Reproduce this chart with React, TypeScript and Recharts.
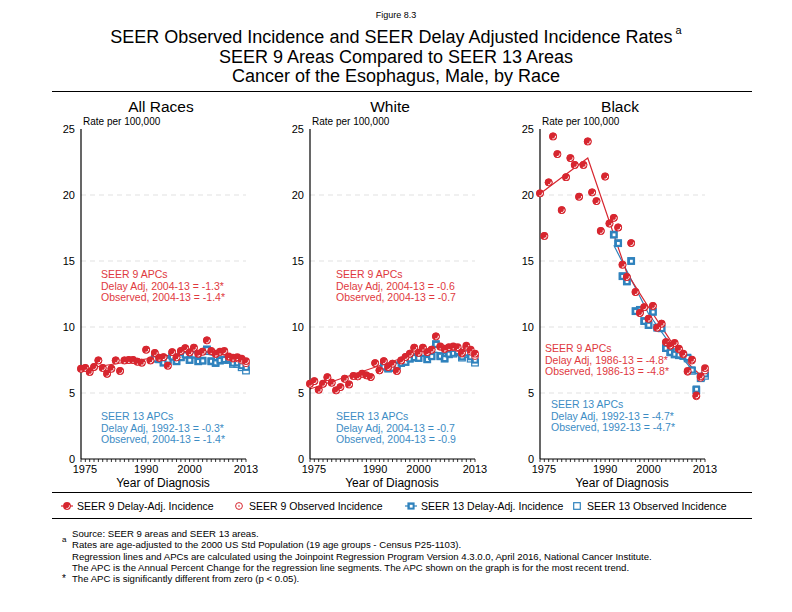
import React from 'react';
import { ComposedChart, Line, XAxis, YAxis, ReferenceLine } from 'recharts';

const RED = '#d7262f';
const BLUE = '#2f82bd';
const RED_TEXT = '#e0393e';
const BLUE_TEXT = '#3c8cc4';
const FONT = '"Liberation Sans", Arial, Helvetica, sans-serif';

const years = [
  1975, 1976, 1977, 1978, 1979, 1980, 1981, 1982, 1983, 1984,
  1985, 1986, 1987, 1988, 1989, 1990, 1991, 1992, 1993, 1994,
  1995, 1996, 1997, 1998, 1999, 2000, 2001, 2002, 2003, 2004,
  2005, 2006, 2007, 2008, 2009, 2010, 2011, 2012, 2013,
];
const labelYears = [1975, 1990, 2000, 2013];
const yTicks = [0, 5, 10, 15, 20, 25];
const gridValues = [5, 10, 15, 20];

// SEER 13 series start in 1992 (17 empty years before)
const pre92 = [null, null, null, null, null, null, null, null, null, null, null, null, null, null, null, null, null];

// All Races
const allS9Delay = [
  6.84, 6.9, 6.6, 6.97, 7.47, 6.9, 6.46, 6.84, 7.47, 6.67,
  7.47, 7.5, 7.5, 7.37, 7.3, 8.28, 7.47, 8.03, 7.67, 7.72,
  7.07, 8.1, 7.7, 8.18, 8.4, 8.08, 8.43, 7.98, 8.13, 8.99,
  8.18, 7.98, 8.13, 8.18, 7.78, 7.67, 7.72, 7.6, 7.42,
];
const allS9Obs = [
  6.84, 6.9, 6.6, 6.97, 7.47, 6.9, 6.46, 6.84, 7.47, 6.67,
  7.47, 7.5, 7.5, 7.37, 7.3, 8.28, 7.47, 8.03, 7.67, 7.72,
  7.07, 8.1, 7.7, 8.18, 8.4, 8.08, 8.43, 7.98, 8.13, 8.99,
  8.16, 7.95, 8.1, 8.12, 7.72, 7.6, 7.62, 7.48, 7.25,
];
const allS13Delay = [
  ...pre92,
  7.6, 7.55, 7.3, 7.5, 7.75, 7.4, 7.7, 7.9, 7.5, 7.9, 7.4,
  7.45, 8.3, 7.42, 7.3, 7.48, 7.55, 7.55, 7.27, 7.3, 7.08, 6.95,
];
const allS13Obs = [
  ...pre92,
  7.6, 7.55, 7.3, 7.5, 7.75, 7.4, 7.7, 7.9, 7.5, 7.9, 7.4,
  7.45, 8.3, 7.4, 7.27, 7.45, 7.5, 7.5, 7.2, 7.2, 6.95, 6.7,
];
const allFit9Years = [1975, 2004, 2013];
const allFit9 = [6.8, 8.3, 7.4];
const allFit13Years = [1992, 2004, 2013];
const allFit13 = [7.6, 7.95, 7.3];

// White
const whiteS9Delay = [
  5.7, 5.9, 5.25, 5.7, 6.2, 5.78, 5.2, 5.45, 6.08, 5.65,
  6.29, 6.26, 6.46, 6.34, 6.21, 7.27, 6.72, 7.42, 6.97, 7.22,
  6.67, 7.47, 7.73, 7.98, 8.43, 8.05, 8.43, 8.1, 8.28, 9.29,
  8.53, 8.36, 8.48, 8.53, 8.48, 8.05, 8.58, 8.28, 7.98,
];
const whiteS9Obs = [
  5.7, 5.9, 5.25, 5.7, 6.2, 5.78, 5.2, 5.45, 6.08, 5.65,
  6.29, 6.26, 6.46, 6.34, 6.21, 7.27, 6.72, 7.42, 6.97, 7.22,
  6.67, 7.47, 7.73, 7.98, 8.43, 8.05, 8.43, 8.1, 8.28, 9.29,
  8.5, 8.33, 8.44, 8.47, 8.4, 7.98, 8.48, 8.14, 7.8,
];
const whiteS13Delay = [
  ...pre92,
  7.0, 6.85, 6.9, 7.1, 7.27, 7.35, 7.6, 7.7, 7.65, 8.03, 7.55,
  7.78, 8.7, 7.8, 7.62, 7.96, 8.02, 8.15, 7.75, 8.05, 7.75, 7.5,
];
const whiteS13Obs = [
  ...pre92,
  7.0, 6.85, 6.9, 7.1, 7.27, 7.35, 7.6, 7.7, 7.65, 8.03, 7.55,
  7.78, 8.7, 7.78, 7.6, 7.93, 7.98, 8.1, 7.68, 7.98, 7.6, 7.3,
];
const whiteFit9Years = [1975, 2004, 2013];
const whiteFit9 = [5.3, 8.5, 8.05];
const whiteFit13Years = [1992, 2004, 2013];
const whiteFit13 = [7.0, 8.1, 7.6];

// Black
const blackS9Delay = [
  20.13, 16.9, 20.96, 24.44, 23.1, 18.86, 21.35, 22.8, 22.28, 19.87,
  22.28, 24.06, 20.2, 19.54, 17.28, 21.4, 17.84, 18.27, 17.54, 14.72,
  13.79, 16.36, 12.65, 11.06, 11.5, 10.63, 11.6, 9.95, 10.25, 8.86,
  8.6, 8.79, 8.36, 7.98, 6.67, 7.53, 4.82, 6.26, 6.89,
];
const blackS9Obs = [
  20.13, 16.9, 20.96, 24.44, 23.1, 18.86, 21.35, 22.8, 22.28, 19.87,
  22.28, 24.06, 20.2, 19.54, 17.28, 21.4, 17.84, 18.27, 17.54, 14.72,
  13.79, 16.36, 12.65, 11.06, 11.5, 10.63, 11.6, 9.95, 10.25, 8.86,
  8.58, 8.76, 8.3, 7.92, 6.6, 7.45, 4.75, 6.15, 6.7,
];
const blackS13Delay = [
  ...pre92,
  17.0, 16.35, 13.85, 13.45, 15.0, 11.2, 11.3, 10.45, 10.15, 11.15, 9.95,
  9.9, 8.4, 8.1, 7.95, 7.9, 7.85, 7.7, 6.75, 5.3, 6.25, 6.45,
];
const blackS13Obs = [
  ...pre92,
  17.0, 16.35, 13.85, 13.45, 15.0, 11.2, 11.3, 10.45, 10.15, 11.15, 9.95,
  9.9, 8.4, 8.08, 7.92, 7.86, 7.8, 7.62, 6.68, 5.22, 6.12, 6.3,
];
const blackFit9Years = [1975, 1986, 1995, 2000, 2005, 2010, 2013];
const blackFit9 = [20.1, 22.8, 14.1, 11.5, 9.0, 6.95, 6.05];
const blackFit13Years = [1992, 2000, 2005, 2010, 2013];
const blackFit13 = [16.2, 11.0, 8.7, 6.8, 5.9];

type Num = number | null;

const FilledCircle = ({ cx, cy }: { cx: number; cy: number }) => (
  <g>
    <circle cx={cx} cy={cy} r={3.9} fill={RED} />
    <path
      d={`M ${cx + 2.4} ${cy - 0.6} A 2.5 2.5 0 0 1 ${cx - 0.6} ${cy + 2.4}`}
      stroke="#fff"
      strokeWidth={1}
      fill="none"
    />
  </g>
);

const OpenCircle = ({ cx, cy }: { cx: number; cy: number }) => (
  <g>
    <circle cx={cx} cy={cy} r={3.4} fill="#fff" stroke={RED} strokeWidth={1} />
    <circle cx={cx} cy={cy} r={0.8} fill={RED} />
  </g>
);

const FilledSquare = ({ cx, cy }: { cx: number; cy: number }) => (
  <g>
    <rect x={cx - 3.6} y={cy - 3.6} width={7.2} height={7.2} fill={BLUE} />
    <rect x={cx - 1.2} y={cy - 1.2} width={2.8} height={2.8} fill="#fff" />
  </g>
);

const OpenSquare = ({ cx, cy }: { cx: number; cy: number }) => (
  <rect x={cx - 3.3} y={cy - 3.3} width={6.6} height={6.6} fill="#fff" stroke={BLUE} strokeWidth={1.2} />
);

const makeDot = (Shape: React.FC<{ cx: number; cy: number }>, tag: string) => (props: any) => {
  const { cx, cy, value, index } = props;
  if (value === null || value === undefined || cy === null || cy === undefined || isNaN(cy)) {
    return <g key={`${tag}-${index}`} />;
  }
  return (
    <g key={`${tag}-${index}`}>
      <Shape cx={cx} cy={cy} />
    </g>
  );
};

// year labels: the first one sits a little to the right of the axis, as in the original
const YearTick = (props: any) => {
  const { x, y, payload } = props;
  const v = payload.value as number;
  if (!labelYears.includes(v)) return <g />;
  const dx = v === 1975 ? 4 : 0;
  return (
    <text x={x + dx} y={y + 9} textAnchor="middle" fontSize={11} fill="#000">
      {v}
    </text>
  );
};

interface PanelProps {
  plotLeft: number;
  s9Delay: Num[];
  s9Obs: Num[];
  s13Delay: Num[];
  s13Obs: Num[];
  fit9Years: number[];
  fit9: number[];
  fit13Years: number[];
  fit13: number[];
}

const Y_AXIS_W = 41;
const PLOT_W = 165;
const RIGHT_PAD = 25;
const CHART_TOP = 120;
const CHART_H = 375;

const Panel: React.FC<PanelProps> = ({ plotLeft, s9Delay, s9Obs, s13Delay, s13Obs, fit9Years, fit9, fit13Years, fit13 }) => {
  const data = years.map((year, i) => {
    const f9i = fit9Years.indexOf(year);
    const f13i = fit13Years.indexOf(year);
    return {
      year,
      s9d: s9Delay[i],
      s9o: s9Obs[i],
      s13d: s13Delay[i],
      s13o: s13Obs[i],
      f9: f9i >= 0 ? fit9[f9i] : null,
      f13: f13i >= 0 ? fit13[f13i] : null,
    };
  });
  return (
    <div style={{ position: 'absolute', left: plotLeft - Y_AXIS_W, top: CHART_TOP }}>
      <ComposedChart
        width={Y_AXIS_W + PLOT_W + RIGHT_PAD}
        height={CHART_H}
        data={data}
        margin={{ top: 9, right: RIGHT_PAD, bottom: 0, left: 0 }}
      >
        {gridValues.map((v) => (
          <ReferenceLine key={v} y={v} stroke="#d9d9d9" strokeDasharray="5 4" strokeWidth={0.8} />
        ))}
        <XAxis
          dataKey="year"
          type="number"
          domain={[1975, 2013]}
          ticks={years}
          interval={0}
          tickSize={3}
          tickMargin={2}
          height={36}
          stroke="#000"
          tick={<YearTick />}
          tickLine={{ stroke: '#000', strokeWidth: 0.8 }}
          axisLine={{ stroke: '#000', strokeWidth: 1.2 }}
        />
        <YAxis
          type="number"
          domain={[0, 25]}
          ticks={yTicks}
          width={Y_AXIS_W}
          tickLine={false}
          tickSize={0}
          tickMargin={6}
          tick={{ fill: '#000', fontSize: 11 }}
          axisLine={{ stroke: '#000', strokeWidth: 1.2 }}
        />
        <Line dataKey="s13o" stroke="none" dot={makeDot(OpenSquare, 's13o')} activeDot={false} isAnimationActive={false} />
        <Line dataKey="s13d" stroke="none" dot={makeDot(FilledSquare, 's13d')} activeDot={false} isAnimationActive={false} />
        <Line dataKey="s9o" stroke="none" dot={makeDot(OpenCircle, 's9o')} activeDot={false} isAnimationActive={false} />
        <Line dataKey="s9d" stroke="none" dot={makeDot(FilledCircle, 's9d')} activeDot={false} isAnimationActive={false} />
        <Line dataKey="f13" stroke={BLUE} strokeWidth={1.2} dot={false} activeDot={false} connectNulls isAnimationActive={false} />
        <Line dataKey="f9" stroke={RED} strokeWidth={1.2} dot={false} activeDot={false} connectNulls isAnimationActive={false} />
      </ComposedChart>
    </div>
  );
};

const abs = (left: number, top: number, extra: React.CSSProperties = {}): React.CSSProperties => ({
  position: 'absolute',
  left,
  top,
  whiteSpace: 'nowrap',
  ...extra,
});

const centered = (cx: number, top: number, fontSize: number, extra: React.CSSProperties = {}): React.CSSProperties => ({
  position: 'absolute',
  left: cx - 300,
  width: 600,
  top,
  textAlign: 'center',
  fontSize,
  lineHeight: 1,
  whiteSpace: 'nowrap',
  ...extra,
});

const ApcBlock = ({ left, top, color, lines }: { left: number; top: number; color: string; lines: string[] }) => (
  <div style={abs(left, top, { color, fontSize: 10.5, lineHeight: '11.5px' })}>
    {lines.map((l) => (
      <div key={l}>{l}</div>
    ))}
  </div>
);

const LegendItem = ({ x, label, kind }: { x: number; label: string; kind: string }) => (
  <div style={abs(x - 8, 500, { fontSize: 10.5, lineHeight: '12px', display: 'flex', alignItems: 'center' })}>
    <svg width={16} height={12} style={{ marginRight: 2 }}>
      {kind === 's9d' && <line x1={2} y1={6} x2={14} y2={6} stroke={RED} strokeWidth={1.2} />}
      {kind === 's13d' && <line x1={2} y1={6} x2={14} y2={6} stroke={BLUE} strokeWidth={1.2} />}
      {kind === 's9d' && <FilledCircle cx={8} cy={6} />}
      {kind === 's9o' && <OpenCircle cx={8} cy={6} />}
      {kind === 's13d' && <FilledSquare cx={8} cy={6} />}
      {kind === 's13o' && <OpenSquare cx={8} cy={6} />}
    </svg>
    <span>{label}</span>
  </div>
);

const panelTitles = ['All Races', 'White', 'Black'];
const plotLefts = [81, 310, 540];

export default function App() {
  return (
    <div
      style={{
        position: 'absolute',
        left: 0,
        top: 0,
        width: 792,
        height: 612,
        background: '#fff',
        fontFamily: FONT,
        color: '#000',
        overflow: 'hidden',
      }}
    >
      <div style={centered(396, 11, 9)}>Figure 8.3</div>
      <div style={centered(396, 28, 18)}>
        SEER Observed Incidence and SEER Delay Adjusted Incidence Rates
        <sup style={{ fontSize: 11, verticalAlign: 'top', position: 'relative', top: -3, marginLeft: 3 }}>a</sup>
      </div>
      <div style={centered(396, 48, 18)}>SEER 9 Areas Compared to SEER 13 Areas</div>
      <div style={centered(396, 67, 18)}>Cancer of the Esophagus, Male, by Race</div>
      <div style={abs(52, 91, { width: 700, height: 0, borderTop: '1.5px solid #000' })} />

      {panelTitles.map((t, i) => (
        <div key={t} style={centered(plotLefts[i] + 80, 99, 15.5)}>
          {t}
        </div>
      ))}
      {plotLefts.map((x) => (
        <div key={`r${x}`} style={abs(x + 2, 117, { fontSize: 10, lineHeight: 1 })}>
          Rate per 100,000
        </div>
      ))}
      {plotLefts.map((x) => (
        <div key={`x${x}`} style={centered(x + 82, 477, 12)}>
          Year of Diagnosis
        </div>
      ))}

      <Panel
        plotLeft={plotLefts[0]}
        s9Delay={allS9Delay}
        s9Obs={allS9Obs}
        s13Delay={allS13Delay}
        s13Obs={allS13Obs}
        fit9Years={allFit9Years}
        fit9={allFit9}
        fit13Years={allFit13Years}
        fit13={allFit13}
      />
      <Panel
        plotLeft={plotLefts[1]}
        s9Delay={whiteS9Delay}
        s9Obs={whiteS9Obs}
        s13Delay={whiteS13Delay}
        s13Obs={whiteS13Obs}
        fit9Years={whiteFit9Years}
        fit9={whiteFit9}
        fit13Years={whiteFit13Years}
        fit13={whiteFit13}
      />
      <Panel
        plotLeft={plotLefts[2]}
        s9Delay={blackS9Delay}
        s9Obs={blackS9Obs}
        s13Delay={blackS13Delay}
        s13Obs={blackS13Obs}
        fit9Years={blackFit9Years}
        fit9={blackFit9}
        fit13Years={blackFit13Years}
        fit13={blackFit13}
      />

      <ApcBlock left={101} top={269} color={RED_TEXT} lines={['SEER 9 APCs', 'Delay Adj, 2004-13 = -1.3*', 'Observed, 2004-13 = -1.4*']} />
      <ApcBlock left={101} top={411} color={BLUE_TEXT} lines={['SEER 13 APCs', 'Delay Adj, 1992-13 = -0.3*', 'Observed, 2004-13 = -1.4*']} />
      <ApcBlock left={336} top={269} color={RED_TEXT} lines={['SEER 9 APCs', 'Delay Adj, 2004-13 = -0.6', 'Observed, 2004-13 = -0.7']} />
      <ApcBlock left={336} top={411} color={BLUE_TEXT} lines={['SEER 13 APCs', 'Delay Adj, 2004-13 = -0.7', 'Observed, 2004-13 = -0.9']} />
      <ApcBlock left={545} top={343} color={RED_TEXT} lines={['SEER 9 APCs', 'Delay Adj, 1986-13 = -4.8*', 'Observed, 1986-13 = -4.8*']} />
      <ApcBlock left={551} top={399} color={BLUE_TEXT} lines={['SEER 13 APCs', 'Delay Adj, 1992-13 = -4.7*', 'Observed, 1992-13 = -4.7*']} />

      <div style={abs(52, 492, { width: 700, height: 0, borderTop: '1.5px solid #000' })} />
      <LegendItem x={67} label="SEER 9 Delay-Adj. Incidence" kind="s9d" />
      <LegendItem x={239} label="SEER 9 Observed Incidence" kind="s9o" />
      <LegendItem x={411} label="SEER 13 Delay-Adj. Incidence" kind="s13d" />
      <LegendItem x={577} label="SEER 13 Observed Incidence" kind="s13o" />
      <div style={abs(52, 518, { width: 700, height: 0, borderTop: '1.5px solid #000' })} />

      <div style={abs(72, 528, { fontSize: 9.6, lineHeight: '11.3px' })}>
        <div>Source: SEER 9 areas and SEER 13 areas.</div>
        <div>Rates are age-adjusted to the 2000 US Std Population (19 age groups - Census P25-1103).</div>
        <div>Regression lines and APCs are calculated using the Joinpoint Regression Program Version 4.3.0.0, April 2016, National Cancer Institute.</div>
        <div>The APC is the Annual Percent Change for the regression line segments. The APC shown on the graph is for the most recent trend.</div>
        <div>The APC is significantly different from zero (p &lt; 0.05).</div>
      </div>
      <div style={abs(62, 535, { fontSize: 8 })}>a</div>
      <div style={abs(62, 573, { fontSize: 10 })}>*</div>
    </div>
  );
}
